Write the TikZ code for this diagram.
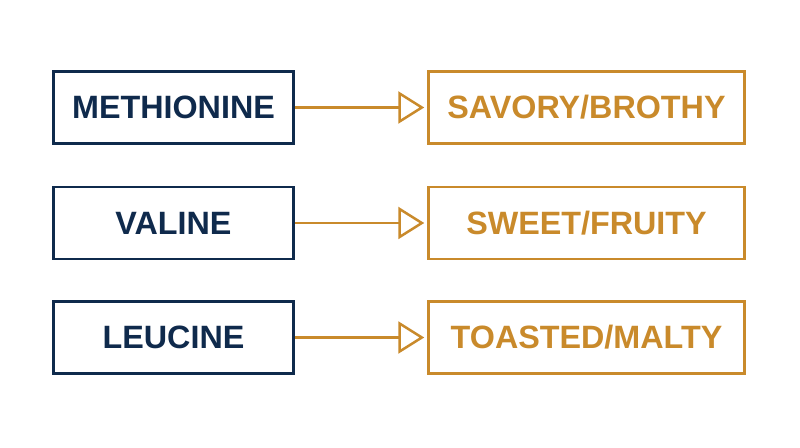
\documentclass[tikz,border=0pt]{standalone}
\usepackage{fontspec}
\setmainfont{Liberation Sans}
\usetikzlibrary{positioning, arrows.meta}

\definecolor{navyblue}{HTML}{0F2A4C}
\definecolor{gold}{HTML}{C98A2B}

\begin{document}
\begin{tikzpicture}[x=1pt, y=1pt,
    acidbox/.style={draw=navyblue, line width=2.5pt, text=navyblue,
      minimum width=240pt, minimum height=72pt,
      font=\fontsize{32.3}{38}\selectfont\bfseries},
    flavorbox/.style={draw=gold, line width=2.5pt, text=gold,
      minimum width=316pt, minimum height=72pt,
      font=\fontsize{32.3}{38}\selectfont\bfseries},
    flavorarrow/.style={draw=gold, line width=2.5pt,
      -{Triangle[open, length=26pt, width=32pt, line width=2.5pt]}, shorten >=3pt}]
    \useasboundingbox (0, 0) rectangle (800, 447);

    % aminosäuren
    \node[acidbox] (methionine) at (173.5, 339.5) {METHIONINE};
    \node[acidbox] (valine) at (173.5, 224) {VALINE};
    \node[acidbox] (leucine) at (173.5, 109.5) {LEUCINE};

    % aromen
    \node[flavorbox] (savory) at (586.5, 339.5) {SAVORY/BROTHY};
    \node[flavorbox] (sweet) at (586.5, 224) {SWEET/FRUITY};
    \node[flavorbox] (toasted) at (586.5, 109.5) {TOASTED/MALTY};

    % pfeile
    \draw[flavorarrow] (methionine) -- (savory);
    \draw[flavorarrow] (valine) -- (sweet);
    \draw[flavorarrow] (leucine) -- (toasted);
  \end{tikzpicture}
\end{document}
